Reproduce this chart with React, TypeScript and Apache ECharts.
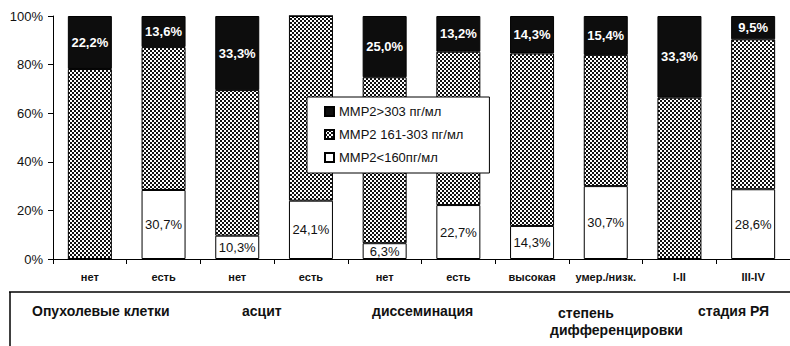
import React, { useEffect, useRef } from "react";
import * as echarts from "echarts";

const categories = ["нет", "есть", "нет", "есть", "нет", "есть", "высокая", "умер./низк.", "I-II", "III-IV"];
const lowValues = [0, 28.4, 9.6, 24.0, 6.5, 22.2, 13.6, 30.0, 0, 28.7];
const midValues = [78.2, 58.8, 59.9, 76.0, 68.3, 63.1, 71.0, 54.0, 66.4, 61.7];
const highValues = [21.8, 12.8, 30.5, 0, 25.2, 14.7, 15.4, 16.0, 33.6, 9.6];
const lowLabels = ["", "30,7%", "10,3%", "24,1%", "6,3%", "22,7%", "14,3%", "30,7%", "", "28,6%"];
const highLabels = ["22,2%", "13,6%", "33,3%", "", "25,0%", "13,2%", "14,3%", "15,4%", "33,3%", "9,5%"];
const seriesNames = ["MMP2>303 пг/мл", "MMP2 161-303 пг/мл", "MMP2<160пг/мл"];
const groupLabels = ["Опухолевые клетки", "асцит", "диссеминация", "степень", "дифференцировки", "стадия РЯ"];
const groupPos = [
  [32, 311],
  [242, 311],
  [372, 311],
  [558, 313],
  [550, 330],
  [698, 311],
];

const FONT = "'Liberation Sans', Arial, sans-serif";

function makePattern(): HTMLCanvasElement {
  const c = document.createElement("canvas");
  c.width = 4;
  c.height = 4;
  const ctx = c.getContext("2d")!;
  ctx.fillStyle = "#ffffff";
  ctx.fillRect(0, 0, 4, 4);
  ctx.fillStyle = "#111111";
  ctx.fillRect(0, 0, 2, 2);
  ctx.fillRect(2, 2, 2, 2);
  return c;
}

export default function App() {
  const ref = useRef<HTMLDivElement>(null);
  useEffect(() => {
    if (!ref.current) return;
    const chart = echarts.init(ref.current, null, { renderer: "svg" });
    const pattern = makePattern();
    const border = { borderColor: "#000", borderWidth: 1 };
    chart.setOption({
      animation: false,
      backgroundColor: "#ffffff",
      grid: { left: 53, top: 16, width: 740, height: 243 },
      legend: {
        data: [seriesNames[0], seriesNames[1], seriesNames[2]],
        orient: "vertical",
        left: 307,
        top: 97,
        padding: [8, 26, 9, 17],
        itemGap: 10,
        itemWidth: 9,
        itemHeight: 9,
        icon: "rect",
        backgroundColor: "#ffffff",
        borderColor: "#000",
        borderWidth: 1,
        textStyle: { fontSize: 13, fontFamily: FONT, color: "#111" },
        z: 10,
      },
      xAxis: {
        type: "category",
        data: categories,
        axisLine: { lineStyle: { color: "#000", width: 1 } },
        axisTick: { show: true, alignWithLabel: false, length: 5, interval: 0, lineStyle: { color: "#000" } },
        axisLabel: { interval: 0, fontSize: 11, fontWeight: "bold", fontFamily: FONT, color: "#111", margin: 12 },
      },
      yAxis: {
        type: "value",
        min: 0,
        max: 100,
        interval: 20,
        splitLine: { show: false },
        axisLine: { show: true, lineStyle: { color: "#000", width: 1 } },
        axisTick: { show: true, length: 5, lineStyle: { color: "#000" } },
        axisLabel: { formatter: "{value}%", fontSize: 13, fontFamily: FONT, color: "#111", margin: 10 },
      },
      series: [
        {
          name: seriesNames[2],
          type: "bar",
          stack: "s",
          barWidth: 44,
          data: lowValues,
          itemStyle: { color: "#ffffff", ...border },
          label: {
            show: true,
            position: "inside",
            fontSize: 13,
            fontFamily: FONT,
            color: "#111",
            formatter: (p: any) => lowLabels[p.dataIndex],
          },
        },
        {
          name: seriesNames[1],
          type: "bar",
          stack: "s",
          barWidth: 44,
          data: midValues,
          itemStyle: { color: { image: pattern, repeat: "repeat" }, ...border },
        },
        {
          name: seriesNames[0],
          type: "bar",
          stack: "s",
          barWidth: 44,
          data: highValues,
          itemStyle: { color: "#0d0d0d", ...border },
          label: {
            show: true,
            position: "inside",
            fontSize: 13,
            fontWeight: "bold",
            fontFamily: FONT,
            color: "#ffffff",
            formatter: (p: any) => highLabels[p.dataIndex],
          },
        },
      ],
      graphic: [
        { type: "line", shape: { x1: 9, y1: 292, x2: 790, y2: 292 }, style: { stroke: "#000", lineWidth: 1.5 } },
        { type: "line", shape: { x1: 10, y1: 292, x2: 10, y2: 346 }, style: { stroke: "#000", lineWidth: 1.5 } },
        ...groupLabels.map((t, i) => ({
          type: "text",
          x: groupPos[i][0],
          y: groupPos[i][1],
          style: {
            text: t,
            fill: "#111",
            font: `bold 14px ${FONT}`,
            textAlign: "left",
            textVerticalAlign: "middle",
          },
        })),
      ],
    });
    return () => chart.dispose();
  }, []);
  return <div ref={ref} style={{ position: "fixed", left: 0, top: 0, width: 790, height: 346 }} />;
}
